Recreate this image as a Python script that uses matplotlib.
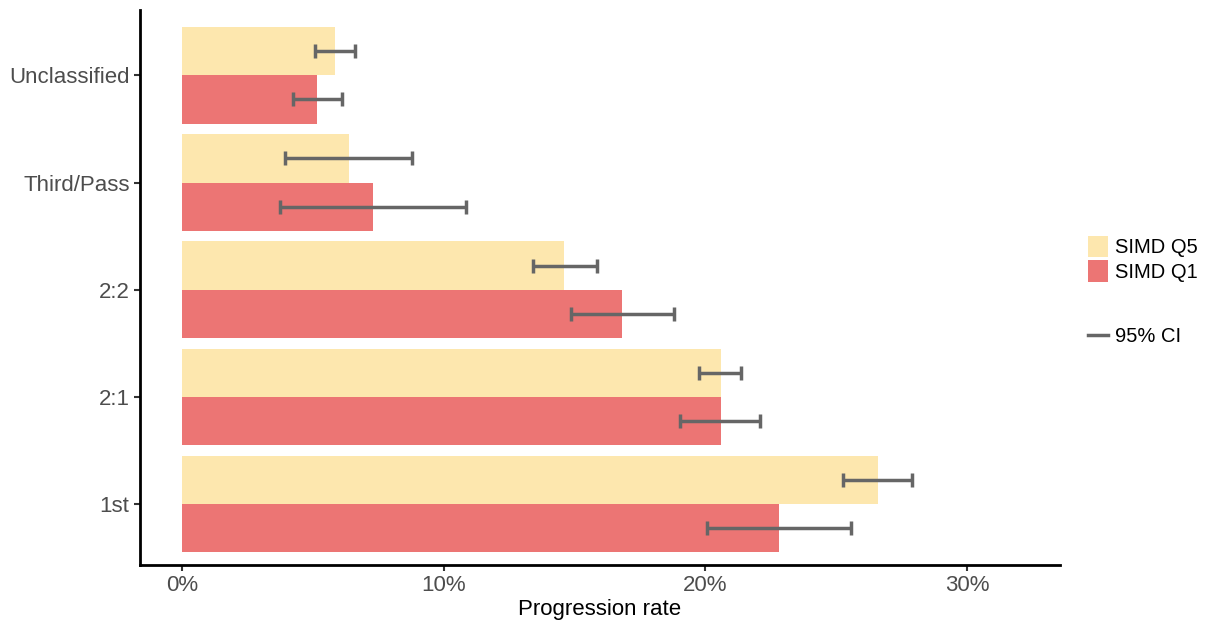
import matplotlib

matplotlib.use("Agg")
import matplotlib.pyplot as plt
import numpy as np
from matplotlib.lines import Line2D
from matplotlib.patches import Patch
from matplotlib.ticker import FuncFormatter

plt.rcParams["font.family"] = ["Liberation Sans", "DejaVu Sans"]

# Degree classification, bottom to top
categories = ["1st", "2:1", "2:2", "Third/Pass", "Unclassified"]

# Progression rate (%) with 95% CI
q5_rate = [26.6, 20.6, 14.6, 6.4, 5.85]
q5_low = [25.25, 19.75, 13.4, 3.95, 5.1]
q5_high = [27.9, 21.35, 15.85, 8.8, 6.6]

q1_rate = [22.8, 20.6, 16.8, 7.3, 5.15]
q1_low = [20.05, 19.05, 14.85, 3.75, 4.25]
q1_high = [25.55, 22.1, 18.8, 10.85, 6.1]

q5_color = "#FDE7AE"
q1_color = "#EC7574"
ci_color = "#666666"
tick_color = "#4D4D4D"

W, H = 1217, 620
fig = plt.figure(figsize=(W / 100, H / 100), dpi=100)
ax = fig.add_axes([140 / W, 55 / H, 920 / W, 555 / H])

y = np.arange(len(categories))
bar_h = 0.45

ax.barh(y + bar_h / 2, q5_rate, height=bar_h, color=q5_color, zorder=1)
ax.barh(y - bar_h / 2, q1_rate, height=bar_h, color=q1_color, zorder=1)

err_kw = dict(fmt="none", ecolor=ci_color, elinewidth=2.5, capsize=5,
              capthick=2.5, zorder=3)
q5_err = [np.subtract(q5_rate, q5_low), np.subtract(q5_high, q5_rate)]
q1_err = [np.subtract(q1_rate, q1_low), np.subtract(q1_high, q1_rate)]
ax.errorbar(q5_rate, y + bar_h / 2, xerr=q5_err, **err_kw)
ax.errorbar(q1_rate, y - bar_h / 2, xerr=q1_err, **err_kw)

ax.set_xlim(-1.6, 33.55)
ax.set_ylim(-0.57, 4.61)
ax.set_xticks([0, 10, 20, 30])
ax.xaxis.set_major_formatter(FuncFormatter(lambda v, _: f"{v:.0f}%"))
ax.set_yticks(y)
ax.set_yticklabels(categories)

for side in ["top", "right"]:
    ax.spines[side].set_visible(False)
for side in ["left", "bottom"]:
    ax.spines[side].set_linewidth(2)
ax.tick_params(axis="both", labelsize=16, labelcolor=tick_color,
               color="#333333", length=4, width=1.5)

ax.set_xlabel("Progression rate", fontsize=16, color="black", labelpad=2)

fill_handles = [Patch(facecolor=q5_color, label="SIMD Q5"),
                Patch(facecolor=q1_color, label="SIMD Q1")]
fig.legend(handles=fill_handles, loc="upper left",
           bbox_to_anchor=(1088 / W, 1 - 236 / H), frameon=False,
           fontsize=14.5, handlelength=1.0, handleheight=1.25,
           handletextpad=0.35, labelspacing=0.15, borderpad=0,
           borderaxespad=0)
ci_handle = [Line2D([], [], color=ci_color, lw=2.5, label="95% CI")]
fig.legend(handles=ci_handle, loc="upper left",
           bbox_to_anchor=(1088 / W, 1 - 327 / H), frameon=False,
           fontsize=14.5, handlelength=1.0, handletextpad=0.35, borderpad=0,
           borderaxespad=0)

fig.savefig("out.png", dpi=100)
